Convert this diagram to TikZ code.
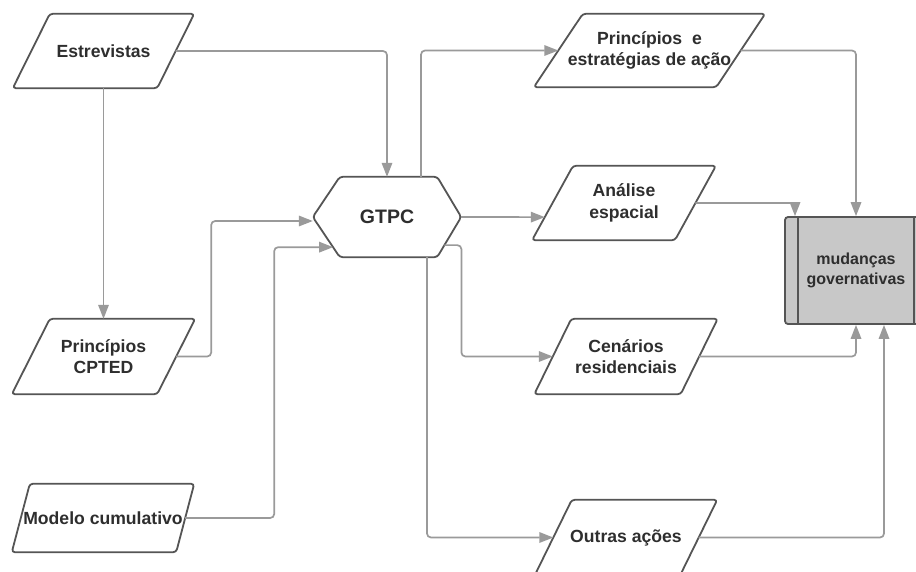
\documentclass[tikz,border=0pt]{standalone}
\usepackage{fontspec}
\setmainfont{Liberation Sans}
\usetikzlibrary{arrows.meta,calc}
\definecolor{linegray}{HTML}{9A9A9A}
\definecolor{edgegray}{HTML}{555555}
\definecolor{txtgray}{HTML}{2E2E2E}
\definecolor{boxfill}{HTML}{C8C8C8}
\tikzset{
  ptext/.style={font=\bfseries\fontsize{17.6}{21.5}\selectfont, text=txtgray, align=center, inner sep=0pt},
  gtext/.style={font=\bfseries\fontsize{19.5}{23}\selectfont, text=txtgray, align=center, inner sep=0pt},
  mtext/.style={font=\bfseries\fontsize{16}{19.5}\selectfont, text=txtgray, align=center, inner sep=0pt},
  pbox/.style={draw=edgegray, line width=1.8pt, rounded corners=3pt, line join=round},
  edgeline/.style={draw=edgegray, line width=1.8pt},
  conn/.style={draw=linegray, line width=1.7pt, rounded corners=4pt, -{Triangle[length=14pt,width=10.5pt]}}
}
\newcommand\mypara[7]{%
  \node[ptext, minimum width=#4pt, minimum height=#5pt] (#1) at (#2,#3) {#7};
  \coordinate (#1-tl) at ($(#1.north west)+(#6,0)$);
  \coordinate (#1-tr) at ($(#1.north east)+(#6,0)$);
  \coordinate (#1-br) at ($(#1.south east)-(#6,0)$);
  \coordinate (#1-bl) at ($(#1.south west)-(#6,0)$);
  \draw[pbox] (#1-tl) -- (#1-tr) -- (#1-br) -- (#1-bl) -- cycle;
}
\begin{document}
\begin{tikzpicture}[x=1pt,y=-1pt]
\useasboundingbox (0,0) rectangle (916,571);
\clip (0,0) rectangle (916,571);
\fill[white] (0,0) rectangle (916,571);

% parallelograms
\mypara{est}{103.5}{51}{144}{74}{18.5}{Estrevistas}
\mypara{cpted}{103.5}{356.5}{145}{75}{19}{Princípios\\CPTED}
\mypara{model}{103}{518}{164}{68}{9}{Modelo cumulativo}
\mypara{pe}{649.5}{50.5}{182}{73}{24.5}{Princípios~ e\\estratégias de ação}
\mypara{an}{624}{203}{142.5}{74}{20.5}{Análise\\espacial}
\mypara{cen}{626}{356.5}{146}{75}{18.5}{Cenários\\residenciais}
\mypara{out}{626}{537.5}{145}{75}{18.5}{Outras ações}

% GTPC hexagon
\node[gtext, minimum width=148pt, minimum height=80pt] (gtpc) at (387,217) {GTPC};
\coordinate (gtpc-tl) at ($(gtpc.north west)+(27,0)$);
\coordinate (gtpc-tr) at ($(gtpc.north east)-(24,0)$);
\coordinate (gtpc-br) at ($(gtpc.south east)-(24,0)$);
\coordinate (gtpc-bl) at ($(gtpc.south west)+(27,0)$);
\draw[pbox] (gtpc.west) -- (gtpc-tl) -- (gtpc-tr) -- (gtpc.east) -- (gtpc-br) -- (gtpc-bl) -- cycle;

% mudancas box
\node[mtext, minimum width=142pt, minimum height=107pt, draw=edgegray, fill=boxfill, line width=1.8pt, rounded corners=3pt] (mud) at (856,270.5) {mudanças\\governativas};
\draw[edgeline] ([xshift=14pt]mud.north west) -- ([xshift=14pt]mud.south west);
\draw[edgeline] ([xshift=-14pt]mud.north east) -- ([xshift=-14pt]mud.south east);

% connectors
\draw[conn] (est.east) -| (gtpc.north);
\draw[conn] (est.south) -- (cpted.north);
\draw[conn] (cpted.east) -- ++(35,0) |- ([yshift=-4pt]gtpc.west);
\draw[conn] (model.east) -- ++(89,0) |- ($(gtpc.west)!0.75!(gtpc-bl)$);
\draw[conn] ([xshift=34pt]gtpc.north) |- (pe.west);
\draw[conn] (gtpc.east) -- ($(an-tl)!0.69!(an-bl)$);
\draw[conn] ($(gtpc.east)!0.7!(gtpc-br)$) -- ++(17,0) |- (cen.west);
\draw[conn] ([xshift=40pt]gtpc.south) |- (out.west);
\draw[conn] (pe.east) -| (mud.north);
\draw[conn] (an.east) -| ([xshift=-61pt]mud.north);
\draw[conn] (cen.east) -| (mud.south);
\draw[conn] (out.east) -| ([xshift=28pt]mud.south);
\end{tikzpicture}
\end{document}
